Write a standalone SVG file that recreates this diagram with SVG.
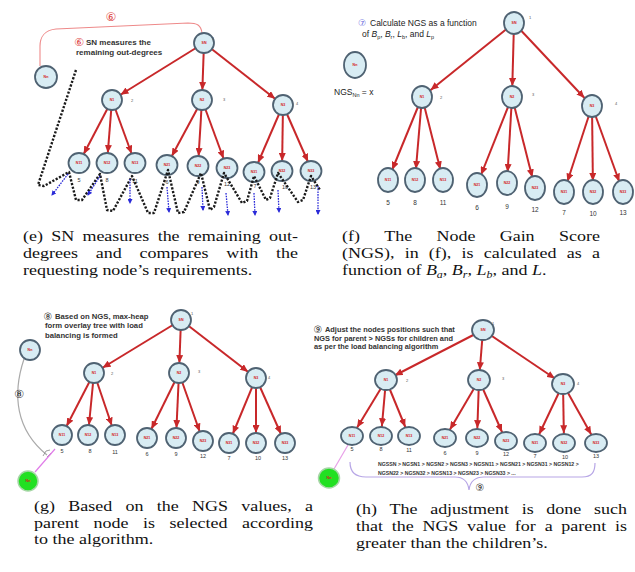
<svg xmlns="http://www.w3.org/2000/svg" width="635" height="572" viewBox="0 0 635 572">
<defs>
<style>
.node ellipse{fill:#d8ecf3;stroke:#4f6272;stroke-width:1.8}
.green ellipse{fill:#22e022;stroke:#a6d6a6;stroke-width:1.5}
.nl{font-family:"Liberation Sans",Arial,sans-serif;font-size:3.6px;font-weight:bold;fill:#d42020;text-anchor:middle}
.num{font-family:"Liberation Sans",Arial,sans-serif;font-size:5.5px;fill:#333;text-anchor:middle}
.numf{font-family:"Liberation Sans",Arial,sans-serif;font-size:6.5px;fill:#333;text-anchor:middle}
.idx{font-family:"Liberation Sans",Arial,sans-serif;font-size:4px;fill:#555}
.ar{stroke:#c8282a;stroke-width:2;fill:none}
.cap{font-family:"Liberation Serif","Times New Roman",serif;font-size:15px;fill:#111}
.ann{font-family:"Liberation Sans",Arial,sans-serif;font-weight:bold;fill:#333}
.annr{font-family:"Liberation Sans",Arial,sans-serif;fill:#222}
.circ{font-family:"DejaVu Sans",sans-serif;text-anchor:middle}
.zig{fill:none;stroke:#1a1a1a;stroke-width:2.4;stroke-dasharray:2.2 1.6;stroke-linejoin:round}
.blue{stroke:#2a2ad8;stroke-width:1.3;stroke-dasharray:1.6 1.1;fill:none}
</style>
<marker id="arE" viewBox="0 0 8 7" markerWidth="8" markerHeight="7" refX="18" refY="3.5" orient="auto" markerUnits="userSpaceOnUse"><path d="M0,0 L8,3.5 L0,7 z" fill="#c8282a"/></marker>
<marker id="arF" viewBox="0 0 8 7" markerWidth="8" markerHeight="7" refX="19" refY="3.5" orient="auto" markerUnits="userSpaceOnUse"><path d="M0,0 L8,3.5 L0,7 z" fill="#c8282a"/></marker>
<marker id="arH" viewBox="0 0 8 7" markerWidth="8" markerHeight="7" refX="17.8" refY="3.5" orient="auto" markerUnits="userSpaceOnUse"><path d="M0,0 L8,3.5 L0,7 z" fill="#c8282a"/></marker>
<marker id="arB" viewBox="0 0 5 5" markerWidth="5" markerHeight="5" refX="4" refY="2.5" orient="auto" markerUnits="userSpaceOnUse"><path d="M0,0 L5,2.5 L0,5 z" fill="#2a2ad8"/></marker>
</defs>
<rect width="635" height="572" fill="#fff"/>

<!-- ===== Panel (e) ===== -->
<g id="e-connectors">
<path d="M202,33 C201,25 197,23 188,23 L56,29 C45,30 40,37 40,46 L40,66" fill="none" stroke="#ee8a8a" stroke-width="1.1"/>
<g class="ar" marker-end="url(#arE)">
<line x1="204" y1="43" x2="112" y2="100"/><line x1="204" y1="43" x2="202" y2="100"/><line x1="204" y1="43" x2="283" y2="105"/>
<line x1="112" y1="100" x2="79" y2="163"/><line x1="112" y1="100" x2="107" y2="163"/><line x1="112" y1="100" x2="135" y2="163"/>
<line x1="202" y1="100" x2="167" y2="165"/><line x1="202" y1="100" x2="198" y2="166"/><line x1="202" y1="100" x2="227" y2="168"/>
<line x1="283" y1="105" x2="254" y2="172"/><line x1="283" y1="105" x2="282" y2="171"/><line x1="283" y1="105" x2="312" y2="171"/>
</g>
</g>
<g id="e-SN" class="node"><ellipse cx="204" cy="43" rx="10" ry="10"/><text class="nl" x="204" y="44.3">SN</text><text class="idx" x="212" y="40">1</text></g>
<g id="e-Nn" class="node"><ellipse cx="46" cy="77" rx="11" ry="11"/><text class="nl" x="46" y="78.3">Nn</text></g>
<g id="e-N1" class="node"><ellipse cx="112" cy="100" rx="10" ry="10"/><text class="nl" x="112" y="101.3">N1</text><text class="idx" x="131" y="102">2</text></g>
<g id="e-N2" class="node"><ellipse cx="202" cy="100" rx="10" ry="10"/><text class="nl" x="202" y="101.3">N2</text><text class="idx" x="223" y="101">3</text></g>
<g id="e-N3" class="node"><ellipse cx="283" cy="105" rx="10" ry="10"/><text class="nl" x="283" y="106.3">N3</text><text class="idx" x="296" y="105">4</text></g>
<g id="e-N11" class="node"><ellipse cx="79" cy="163" rx="10.5" ry="10"/><text class="nl" x="79" y="164.3">N11</text><text class="num" x="79" y="181.5">5</text></g>
<g id="e-N12" class="node"><ellipse cx="107" cy="163" rx="10.5" ry="10"/><text class="nl" x="107" y="164.3">N12</text><text class="num" x="107" y="181.5">8</text></g>
<g id="e-N13" class="node"><ellipse cx="135" cy="163" rx="10.5" ry="10"/><text class="nl" x="135" y="164.3">N13</text><text class="num" x="135" y="183">11</text></g>
<g id="e-N21" class="node"><ellipse cx="167" cy="165" rx="10.5" ry="10"/><text class="nl" x="167" y="166.3">N21</text><text class="num" x="167" y="183.5">6</text></g>
<g id="e-N22" class="node"><ellipse cx="198" cy="166" rx="10.5" ry="10"/><text class="nl" x="198" y="167.3">N22</text><text class="num" x="198" y="184">9</text></g>
<g id="e-N23" class="node"><ellipse cx="227" cy="168" rx="10.5" ry="10"/><text class="nl" x="227" y="169.3">N23</text><text class="num" x="227" y="186">12</text></g>
<g id="e-N31" class="node"><ellipse cx="254" cy="172" rx="10.5" ry="10"/><text class="nl" x="254" y="173.3">N31</text><text class="num" x="255" y="188">7</text></g>
<g id="e-N32" class="node"><ellipse cx="282" cy="171" rx="10.5" ry="10"/><text class="nl" x="282" y="172.3">N32</text><text class="num" x="285" y="189">10</text></g>
<g id="e-N33" class="node"><ellipse cx="311" cy="171" rx="10.5" ry="10"/><text class="nl" x="311" y="172.3">N33</text><text class="num" x="313" y="189">13</text></g>
<g id="e-traversal">
<path class="zig" d="M76,70 L38,185 L44,186 L69,172 L76,200 L82,200 L100,174 L107,210 L113,211 L132,176 L148,213 L154,213 L168,170 L178,213 L184,212 L201,173 L210,210 L214,207 L224,173 L242,203 L247,201 L254,176 L266,200 L270,198 L278,173 L298,202 L303,200 L311,176 L320,190"/>
<g class="blue" marker-end="url(#arB)">
<line x1="68" y1="174" x2="52" y2="195"/><line x1="100" y1="176" x2="88" y2="195"/><line x1="130" y1="179" x2="130" y2="203"/>
<line x1="167" y1="187" x2="169" y2="212"/><line x1="202" y1="187" x2="203" y2="210"/><line x1="226" y1="193" x2="228" y2="215"/>
<line x1="254" y1="193" x2="255" y2="215"/><line x1="278" y1="190" x2="279" y2="212"/><line x1="318" y1="186" x2="318" y2="214"/>
</g>
</g>
<text class="circ" x="111" y="21" font-size="12" fill="#e04848">⑥</text>
<text class="circ" x="79" y="46" font-size="11" fill="#e04848">⑥</text>
<text class="ann" x="86" y="45" font-size="8">SN measures the</text>
<text class="ann" x="76" y="55" font-size="8">remaining out-degrees</text>

<g class="cap" transform="matrix(1.2 0 0 1 23 0)">
<text y="241"><tspan x="0">(e)</tspan><tspan x="23.5">SN</tspan><tspan x="49.5">measures</tspan><tspan x="112.2">the</tspan><tspan x="137.4">remaining</tspan><tspan x="205">out-</tspan></text>
<text y="258"><tspan x="0">degrees</tspan><tspan x="60.6">and</tspan><tspan x="97.1">compares</tspan><tspan x="169.4">with</tspan><tspan x="210.9">the</tspan></text>
<text x="0" y="275">requesting node’s requirements.</text>
</g>

<!-- ===== Panel (f) ===== -->
<g id="f-connectors" class="ar" marker-end="url(#arF)">
<line x1="514" y1="23" x2="422" y2="97"/><line x1="514" y1="23" x2="512" y2="97"/><line x1="514" y1="23" x2="592" y2="106"/>
<line x1="422" y1="97" x2="388" y2="180"/><line x1="422" y1="97" x2="415" y2="180"/><line x1="422" y1="97" x2="443" y2="180"/>
<line x1="512" y1="97" x2="477" y2="185"/><line x1="512" y1="97" x2="507" y2="183"/><line x1="512" y1="97" x2="535" y2="188"/>
<line x1="592" y1="106" x2="564" y2="192"/><line x1="592" y1="106" x2="593" y2="192"/><line x1="592" y1="106" x2="623" y2="192"/>
</g>
<g id="f-SN" class="node"><ellipse cx="514" cy="23" rx="10" ry="11"/><text class="nl" x="514" y="24.3">SN</text><text class="idx" x="529" y="19">1</text></g>
<g id="f-Nn" class="node"><ellipse cx="355" cy="65" rx="11" ry="13"/><text class="nl" x="355" y="66.3">Nn</text></g>
<g id="f-N1" class="node"><ellipse cx="422" cy="97" rx="10" ry="11"/><text class="nl" x="422" y="98.3">N1</text><text class="idx" x="440" y="99">2</text></g>
<g id="f-N2" class="node"><ellipse cx="512" cy="97" rx="10" ry="11"/><text class="nl" x="512" y="98.3">N2</text><text class="idx" x="532" y="96">3</text></g>
<g id="f-N3" class="node"><ellipse cx="592" cy="106" rx="10" ry="11"/><text class="nl" x="592" y="107.3">N3</text><text class="idx" x="615" y="105">4</text></g>
<g id="f-N11" class="node"><ellipse cx="388" cy="180" rx="10" ry="12"/><text class="nl" x="388" y="181.3">N11</text><text class="numf" x="388" y="205">5</text></g>
<g id="f-N12" class="node"><ellipse cx="415" cy="180" rx="10" ry="12"/><text class="nl" x="415" y="181.3">N12</text><text class="numf" x="415" y="205">8</text></g>
<g id="f-N13" class="node"><ellipse cx="443" cy="180" rx="10" ry="12"/><text class="nl" x="443" y="181.3">N13</text><text class="numf" x="443" y="205">11</text></g>
<g id="f-N21" class="node"><ellipse cx="477" cy="185" rx="10" ry="12"/><text class="nl" x="477" y="186.3">N21</text><text class="numf" x="477" y="210">6</text></g>
<g id="f-N22" class="node"><ellipse cx="507" cy="183" rx="10" ry="12"/><text class="nl" x="507" y="184.3">N22</text><text class="numf" x="507" y="209">9</text></g>
<g id="f-N23" class="node"><ellipse cx="535" cy="188" rx="10" ry="12"/><text class="nl" x="535" y="189.3">N23</text><text class="numf" x="535" y="212">12</text></g>
<g id="f-N31" class="node"><ellipse cx="564" cy="192" rx="10" ry="12"/><text class="nl" x="564" y="193.3">N31</text><text class="numf" x="564" y="215">7</text></g>
<g id="f-N32" class="node"><ellipse cx="593" cy="192" rx="10" ry="12"/><text class="nl" x="593" y="193.3">N32</text><text class="numf" x="593" y="216">10</text></g>
<g id="f-N33" class="node"><ellipse cx="623" cy="192" rx="10" ry="12"/><text class="nl" x="623" y="193.3">N33</text><text class="numf" x="623" y="215">13</text></g>
<text class="circ" x="362" y="25.5" font-size="9" fill="#6c6ce0">⑦</text>
<text class="annr" x="370" y="26" font-size="8.5">Calculate NGS as a function</text>
<text class="annr" x="362" y="36.5" font-size="8.5">of <tspan font-style="italic">B</tspan><tspan font-size="5.5" dy="2">p</tspan><tspan dy="-2">, </tspan><tspan font-style="italic">B</tspan><tspan font-size="5.5" dy="2">r</tspan><tspan dy="-2">, </tspan><tspan font-style="italic">L</tspan><tspan font-size="5.5" dy="2">b</tspan><tspan dy="-2">, and </tspan><tspan font-style="italic">L</tspan><tspan font-size="5.5" dy="2">p</tspan></text>
<text class="annr" x="334" y="95" font-size="8.5">NGS<tspan font-size="5.5" dy="2">Nn</tspan><tspan dy="-2"> = x</tspan></text>

<g class="cap" transform="matrix(1.2 0 0 1 342 0)">
<text y="241"><tspan x="0">(f)</tspan><tspan x="35.2">The</tspan><tspan x="78.7">Node</tspan><tspan x="131.4">Gain</tspan><tspan x="180.8">Score</tspan></text>
<text y="258"><tspan x="0">(NGS),</tspan><tspan x="52.2">in</tspan><tspan x="72.4">(f),</tspan><tspan x="99.6">is</tspan><tspan x="118.1">calculated</tspan><tspan x="187.4">as</tspan><tspan x="208.4">a</tspan></text>
<text x="0" y="275">function of <tspan font-style="italic">B</tspan><tspan font-style="italic" font-size="10" dy="3">a</tspan><tspan dy="-3">, </tspan><tspan font-style="italic">B</tspan><tspan font-style="italic" font-size="10" dy="3">r</tspan><tspan dy="-3">, </tspan><tspan font-style="italic">L</tspan><tspan font-style="italic" font-size="10" dy="3">b</tspan><tspan dy="-3">, and </tspan><tspan font-style="italic">L</tspan>.</text>
</g>

<!-- ===== Panel (g) ===== -->
<g id="g-connectors">
<path d="M24,359 C12,395 16,430 47,455" fill="none" stroke="#aaaaaa" stroke-width="1.2"/>
<path d="M43,456 L46,451 L50,450 M47,457 L51,453" fill="none" stroke="#888" stroke-width="0.8"/>
<line x1="55" y1="449" x2="35" y2="472" stroke="#e07de8" stroke-width="1.2"/>
<g class="ar" marker-end="url(#arE)">
<line x1="181" y1="320" x2="94" y2="373"/><line x1="181" y1="320" x2="179" y2="373"/><line x1="181" y1="320" x2="256" y2="378"/>
<line x1="94" y1="373" x2="62" y2="435"/><line x1="94" y1="373" x2="88" y2="435"/><line x1="94" y1="373" x2="115" y2="435"/>
<line x1="179" y1="373" x2="147" y2="438"/><line x1="179" y1="373" x2="176" y2="438"/><line x1="179" y1="373" x2="203" y2="441"/>
<line x1="256" y1="378" x2="229" y2="443"/><line x1="256" y1="378" x2="256" y2="443"/><line x1="256" y1="378" x2="285" y2="443"/>
</g>
</g>
<g id="g-SN" class="node"><ellipse cx="181" cy="320" rx="10" ry="10"/><text class="nl" x="181" y="321.3">SN</text><text class="idx" x="191" y="315">1</text></g>
<g id="g-Nn" class="node"><ellipse cx="30" cy="350" rx="10" ry="10"/><text class="nl" x="30" y="351.3">Nn</text></g>
<g id="g-Nn-new" class="green"><ellipse cx="28" cy="481" rx="10" ry="10"/><text class="nl" x="28" y="482.3">Nn</text></g>
<g id="g-N1" class="node"><ellipse cx="94" cy="373" rx="10" ry="10"/><text class="nl" x="94" y="374.3">N1</text><text class="idx" x="111" y="375">2</text></g>
<g id="g-N2" class="node"><ellipse cx="179" cy="373" rx="10" ry="10"/><text class="nl" x="179" y="374.3">N2</text><text class="idx" x="198" y="373">3</text></g>
<g id="g-N3" class="node"><ellipse cx="256" cy="378" rx="10" ry="10"/><text class="nl" x="256" y="379.3">N3</text><text class="idx" x="268" y="379">4</text></g>
<g id="g-N11" class="node"><ellipse cx="62" cy="435" rx="10" ry="10"/><text class="nl" x="62" y="436.3">N11</text><text class="num" x="62" y="453">5</text></g>
<g id="g-N12" class="node"><ellipse cx="88" cy="435" rx="10" ry="10"/><text class="nl" x="88" y="436.3">N12</text><text class="num" x="90" y="453">8</text></g>
<g id="g-N13" class="node"><ellipse cx="115" cy="435" rx="10" ry="10"/><text class="nl" x="115" y="436.3">N13</text><text class="num" x="115" y="454">11</text></g>
<g id="g-N21" class="node"><ellipse cx="147" cy="438" rx="10" ry="10"/><text class="nl" x="147" y="439.3">N21</text><text class="num" x="147" y="456">6</text></g>
<g id="g-N22" class="node"><ellipse cx="176" cy="438" rx="10" ry="10"/><text class="nl" x="176" y="439.3">N22</text><text class="num" x="176" y="456">9</text></g>
<g id="g-N23" class="node"><ellipse cx="203" cy="441" rx="10" ry="10"/><text class="nl" x="203" y="442.3">N23</text><text class="num" x="203" y="458">12</text></g>
<g id="g-N31" class="node"><ellipse cx="229" cy="443" rx="10" ry="10"/><text class="nl" x="229" y="444.3">N31</text><text class="num" x="229" y="460">7</text></g>
<g id="g-N32" class="node"><ellipse cx="256" cy="443" rx="10" ry="10"/><text class="nl" x="256" y="444.3">N32</text><text class="num" x="258" y="460">10</text></g>
<g id="g-N33" class="node"><ellipse cx="285" cy="443" rx="10" ry="10"/><text class="nl" x="285" y="444.3">N33</text><text class="num" x="285" y="460">13</text></g>
<text class="circ" x="48" y="320" font-size="10" fill="#333">⑧</text>
<text class="ann" x="55" y="319" font-size="7.7">Based on NGS, max-heap</text>
<text class="ann" x="45" y="328" font-size="7.7">form overlay tree with load</text>
<text class="ann" x="45" y="338" font-size="7.7">balancing is formed</text>
<text class="circ" x="19" y="398" font-size="11" fill="#333">⑧</text>

<g class="cap" transform="matrix(1.2 0 0 1 34 0)">
<text y="511"><tspan x="0">(g)</tspan><tspan x="28.54">Based</tspan><tspan x="76.25">on</tspan><tspan x="102.3">the</tspan><tspan x="131.7">NGS</tspan><tspan x="172.7">values,</tspan><tspan x="225.85">a</tspan></text>
<text y="528"><tspan x="0">parent</tspan><tspan x="49.6">node</tspan><tspan x="90.9">is</tspan><tspan x="113">selected</tspan><tspan x="173.4">according</tspan></text>
<text x="0" y="544">to the algorithm.</text>
</g>

<!-- ===== Panel (h) ===== -->
<g id="h-connectors">
<line x1="348" y1="445" x2="334" y2="469" stroke="#e8a0e8" stroke-width="1.2"/>
<path d="M350,462 C350,472 355,477 366,477 L455,477 C464,477 468,482 469,490 C470,482 474,477 484,477 L582,477 C592,477 595,472 595,463" fill="none" stroke="#b7a6e6" stroke-width="1.2"/>
<g class="ar" marker-end="url(#arH)">
<line x1="483" y1="330" x2="386" y2="380"/><line x1="483" y1="330" x2="479" y2="380"/><line x1="483" y1="330" x2="563" y2="384"/>
<line x1="386" y1="380" x2="352" y2="436"/><line x1="386" y1="380" x2="381" y2="436"/><line x1="386" y1="380" x2="409" y2="436"/>
<line x1="479" y1="380" x2="445" y2="438"/><line x1="479" y1="380" x2="477" y2="438"/><line x1="479" y1="380" x2="506" y2="441"/>
<line x1="563" y1="384" x2="535" y2="443"/><line x1="563" y1="384" x2="564" y2="443"/><line x1="563" y1="384" x2="596" y2="443"/>
</g>
</g>
<g id="h-SN" class="node"><ellipse cx="483" cy="330" rx="11" ry="10"/><text class="nl" x="483" y="331.3">SN</text><text class="idx" x="492" y="325">1</text></g>
<g id="h-Nn" class="green"><ellipse cx="329" cy="478" rx="10.5" ry="10"/><text class="nl" x="329" y="479.3">Nn</text></g>
<g id="h-N1" class="node"><ellipse cx="386" cy="380" rx="11" ry="10"/><text class="nl" x="386" y="381.3">N1</text><text class="idx" x="406" y="382">2</text></g>
<g id="h-N2" class="node"><ellipse cx="479" cy="380" rx="11" ry="10"/><text class="nl" x="479" y="381.3">N2</text><text class="idx" x="502" y="380">3</text></g>
<g id="h-N3" class="node"><ellipse cx="563" cy="384" rx="11" ry="10"/><text class="nl" x="563" y="385.3">N3</text><text class="idx" x="577" y="385">4</text></g>
<g id="h-N11" class="node"><ellipse cx="352" cy="436" rx="11" ry="9"/><text class="nl" x="352" y="437.3">N11</text><text class="num" x="352" y="451">5</text></g>
<g id="h-N12" class="node"><ellipse cx="381" cy="436" rx="11" ry="9"/><text class="nl" x="381" y="437.3">N12</text><text class="num" x="381" y="451">8</text></g>
<g id="h-N13" class="node"><ellipse cx="409" cy="436" rx="11" ry="9"/><text class="nl" x="409" y="437.3">N13</text><text class="num" x="409" y="452">11</text></g>
<g id="h-N21" class="node"><ellipse cx="445" cy="438" rx="11" ry="9"/><text class="nl" x="445" y="439.3">N21</text><text class="num" x="445" y="455">6</text></g>
<g id="h-N22" class="node"><ellipse cx="477" cy="438" rx="11" ry="9"/><text class="nl" x="477" y="439.3">N22</text><text class="num" x="477" y="455">9</text></g>
<g id="h-N23" class="node"><ellipse cx="506" cy="441" rx="11" ry="9"/><text class="nl" x="506" y="442.3">N23</text><text class="num" x="506" y="456">12</text></g>
<g id="h-N31" class="node"><ellipse cx="535" cy="443" rx="11" ry="9"/><text class="nl" x="535" y="444.3">N31</text><text class="num" x="535" y="458">7</text></g>
<g id="h-N32" class="node"><ellipse cx="564" cy="443" rx="11" ry="9"/><text class="nl" x="564" y="444.3">N32</text><text class="num" x="565" y="459">10</text></g>
<g id="h-N33" class="node"><ellipse cx="596" cy="443" rx="11" ry="9"/><text class="nl" x="596" y="444.3">N33</text><text class="num" x="596" y="458">13</text></g>
<text class="circ" x="318" y="333" font-size="10" fill="#333">⑨</text>
<text class="ann" x="325" y="332" font-size="7.4">Adjust the nodes positions such that</text>
<text class="ann" x="314" y="340.5" font-size="7.4">NGS for parent &gt; NGSs for children and</text>
<text class="ann" x="314" y="348.5" font-size="7.4">as per the load balancing algorithm</text>
<text class="ann" x="378" y="466" font-size="5.2">NGSSN &gt; NGSN1 &gt; NGSN2 &gt; NGSN3 &gt; NGSN11 &gt; NGSN21 &gt; NGSN31 &gt; NGSN12 &gt;</text>
<text class="ann" x="378" y="475" font-size="5.2">NGSN22 &gt; NGSN32 &gt; NGSN13 &gt; NGSN23 &gt; NGSN33 &gt; ...</text>
<text class="circ" x="480" y="491" font-size="10" fill="#333">⑨</text>

<g class="cap" transform="matrix(1.2 0 0 1 356 0)">
<text y="514"><tspan x="0">(h)</tspan><tspan x="28">The</tspan><tspan x="61.8">adjustment</tspan><tspan x="138.1">is</tspan><tspan x="158.6">done</tspan><tspan x="198.3">such</tspan></text>
<text y="531"><tspan x="0">that</tspan><tspan x="29.76">the</tspan><tspan x="55.35">NGS</tspan><tspan x="92.6">value</tspan><tspan x="132.4">for</tspan><tspan x="157.2">a</tspan><tspan x="171.1">parent</tspan><tspan x="215.8">is</tspan></text>
<text x="0" y="548">greater than the children’s.</text>
</g>
</svg>
